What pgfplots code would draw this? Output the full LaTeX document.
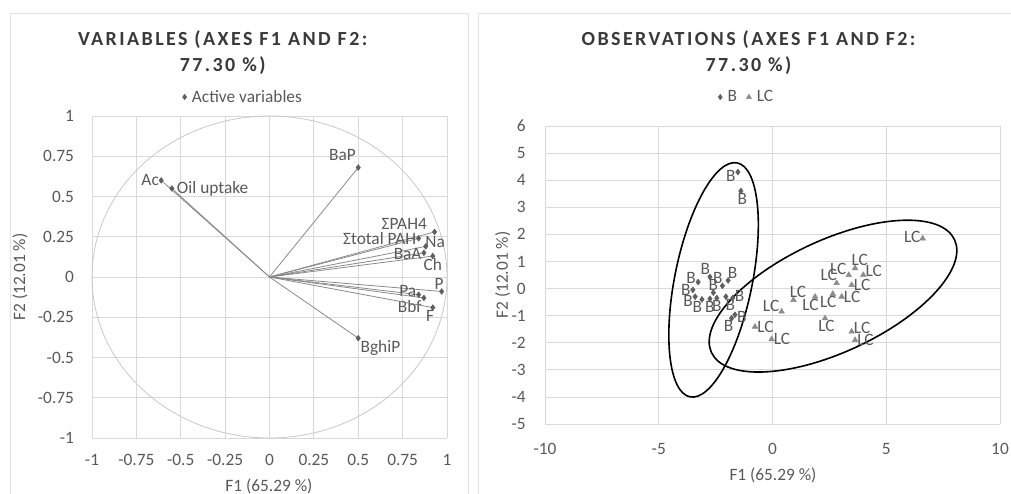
\documentclass[border=0pt]{standalone}
\usepackage{pgfplots}
\pgfplotsset{compat=1.18}
\usepackage{fontspec}
\setmainfont{Carlito}
\newfontfamily\titlefont{Carlito}[LetterSpace=12]
\definecolor{gridc}{HTML}{D9D9D9}
\definecolor{txt}{HTML}{595959}
\definecolor{ttl}{HTML}{3A3A3A}
\definecolor{dmk}{HTML}{5F5F5F}
\definecolor{tmk}{HTML}{8C8C8C}
\definecolor{vec}{HTML}{8A8A8A}
\definecolor{circ}{HTML}{C8C8C8}
\definecolor{framec}{HTML}{E3E3E3}
\newcommand{\lblfont}{\fontsize{13}{15}\selectfont}
\tikzset{lab/.style={font=\lblfont, text=txt, inner sep=1.5pt},
  ttlstyle/.style={font=\titlefont\fontsize{15}{19.5}\selectfont\bfseries, text=ttl, align=center}}
\pgfplotsset{
  excel/.style={
    scale only axis,
    axis line style={draw=none},
    major tick style={draw=none},
    grid=major,
    major grid style={gridc, line width=0.6pt},
    tick label style={font=\lblfont, text=txt},
    /pgf/number format/assume math mode=true,
    clip=false,
    legend style={draw=none, fill=none, font=\lblfont, text=txt, legend columns=-1,
      /tikz/every even column/.append style={column sep=5pt},
      /tikz/every odd column/.append style={column sep=2pt}},
  },
}
\pgfplotstableread{
x y a
-1.52 4.30 30
-1.39 3.60 100
-3.27 0.24 330
-2.75 0.43 300
-2.20 0.10 300
-1.95 0.30 240
-3.50 -0.05 0
-2.60 -0.15 270
-1.75 -0.35 200
-3.40 -0.30 30
-3.10 -0.40 60
-2.75 -0.38 90
-2.45 -0.35 90
-2.05 -0.30 120
-1.65 -0.97 160
-1.80 -1.10 70
}\Bdata
\pgfplotstableread{
x y a
6.60 1.85 350
3.63 0.75 240
3.99 0.50 200
2.82 0.20 315
3.35 0.50 330
3.48 0.13 180
3.04 -0.30 180
2.65 -0.20 60
1.87 -0.30 60
0.92 -0.42 240
0.40 -0.85 330
2.31 -1.10 100
3.48 -1.59 200
3.63 -1.90 180
-0.77 -1.41 180
-0.04 -1.87 180
}\LCdata
\begin{document}
\begin{tikzpicture}
\useasboundingbox (0pt,0pt) rectangle (758.25pt,369.75pt);
\draw[framec, line width=0.7pt] (7.5pt,-2pt) -- (7.5pt,360pt) -- (351pt,360pt) -- (351pt,-2pt);
\draw[framec, line width=0.7pt] (358.5pt,-2pt) -- (358.5pt,360pt) -- (760pt,360pt);
% ---------------- left: variables ----------------
\begin{axis}[excel, at={(69pt,41.25pt)}, anchor=south west, width=266.25pt, height=241.5pt,
  xmin=-1, xmax=1, ymin=-1, ymax=1,
  xtick={-1,-0.75,-0.5,-0.25,0,0.25,0.5,0.75,1},
  ytick={-1,-0.75,-0.5,-0.25,0,0.25,0.5,0.75,1},
  xticklabel style={yshift=-9pt}, yticklabel style={xshift=-10pt},
  legend style={at={(0.427,1.059)}, anchor=center},
  vv/.style={vec, line width=0.6pt, mark=diamond*, mark size=2pt, mark indices={2},
    mark options={dmk, fill=dmk, solid}, forget plot},
]
\addlegendimage{only marks, mark=diamond*, mark size=2pt, dmk, fill=dmk}
\addlegendentry{Active variables}
\draw[circ, line width=0.6pt] (axis cs:0,0) ellipse [x radius=1, y radius=1];
\addplot[vv] coordinates {(0,0) (-0.61,0.60)} node[pos=1, anchor=east, lab] {Ac};
\addplot[vv] coordinates {(0,0) (-0.55,0.55)} node[pos=1, anchor=west, lab, xshift=2pt] {Oil uptake};
\addplot[vv] coordinates {(0,0) (0.50,0.68)} node[pos=1, anchor=south east, lab, yshift=3pt] {BaP};
\addplot[vv] coordinates {(0,0) (0.93,0.28)} node[pos=1, anchor=south east, lab, xshift=-4pt] {ΣPAH4};
\addplot[vv] coordinates {(0,0) (0.84,0.24)} node[pos=1, anchor=east, lab] {Σtotal PAH};
\addplot[vv] coordinates {(0,0) (0.88,0.19)} node[pos=1, anchor=south west, lab, xshift=-2pt, yshift=-3pt] {Na};
\addplot[vv] coordinates {(0,0) (0.87,0.15)} node[pos=1, anchor=east, lab, yshift=-1pt] {BaA};
\addplot[vv] coordinates {(0,0) (0.92,0.13)} node[pos=1, anchor=north, lab] {Ch};
\addplot[vv] coordinates {(0,0) (0.97,-0.09)} node[pos=1, anchor=south, lab, xshift=-2pt] {P};
\addplot[vv] coordinates {(0,0) (0.84,-0.11)} node[pos=1, anchor=east, lab, yshift=3pt] {Pa};
\addplot[vv] coordinates {(0,0) (0.87,-0.13)} node[pos=1, anchor=north east, lab] {Bbf};
\addplot[vv] coordinates {(0,0) (0.92,-0.19)} node[pos=1, anchor=north, lab, xshift=-2pt] {F};
\addplot[vv] coordinates {(0,0) (0.50,-0.38)} node[pos=1, anchor=north west, lab] {BghiP};
\end{axis}
% ---------------- right: observations ----------------
\begin{axis}[excel, at={(408.75pt,51.75pt)}, anchor=south west, width=341.25pt, height=223.5pt,
  xmin=-10, xmax=10, ymin=-5, ymax=6,
  xtick={-10,-5,0,5,10}, ytick={-5,-4,-3,-2,-1,0,1,2,3,4,5,6},
  xticklabel style={yshift=-11pt}, yticklabel style={xshift=-11pt},
  legend style={at={(0.444,1.097)}, anchor=center},
]
\addlegendimage{only marks, mark=diamond*, mark size=2pt, dmk, fill=dmk}
\addlegendentry{B}
\addlegendimage{only marks, mark=triangle*, mark size=2.2pt, tmk, fill=tmk}
\addlegendentry{LC}
\addplot[only marks, mark=diamond*, mark size=2.2pt, dmk, fill=dmk, forget plot,
  point meta=explicit symbolic,
  nodes near coords={B},
  every node near coord/.append style={anchor=\pgfplotspointmeta, lab}] table[x=x,y=y,meta=a] {\Bdata};
\addplot[only marks, mark=triangle*, mark size=2.4pt, tmk, fill=tmk, forget plot,
  point meta=explicit symbolic,
  nodes near coords={LC},
  every node near coord/.append style={anchor=\pgfplotspointmeta, lab}] table[x=x,y=y,meta=a] {\LCdata};
\draw[black, line width=1.2pt, rotate around={78.6:(axis cs:-2.59,0.32)}]
  (axis cs:-2.59,0.32) ellipse [x radius=89.5pt, y radius=29.1pt];
\draw[black, line width=1.2pt, rotate around={24.9:(axis cs:2.66,-0.28)}]
  (axis cs:2.66,-0.28) ellipse [x radius=100.5pt, y radius=42pt];
\end{axis}
% titles and axis names
\node[ttlstyle] at (167pt,330pt) {VARIABLES (AXES F1 AND F2:\\77.30 \%)};
\node[ttlstyle] at (561.4pt,330pt) {OBSERVATIONS (AXES F1 AND F2:\\77.30 \%)};
\node[font=\lblfont, text=txt] at (201.75pt,5pt) {F1 (65.29 \%)};
\node[font=\lblfont, text=txt] at (579.75pt,13.5pt) {F1 (65.29 \%)};
\node[font=\lblfont, text=txt, rotate=90] at (15pt,162pt) {F2 (12.01 \%)};
\node[font=\lblfont, text=txt, rotate=90] at (377pt,163.5pt) {F2 (12.01 \%)};
\end{tikzpicture}
\end{document}
